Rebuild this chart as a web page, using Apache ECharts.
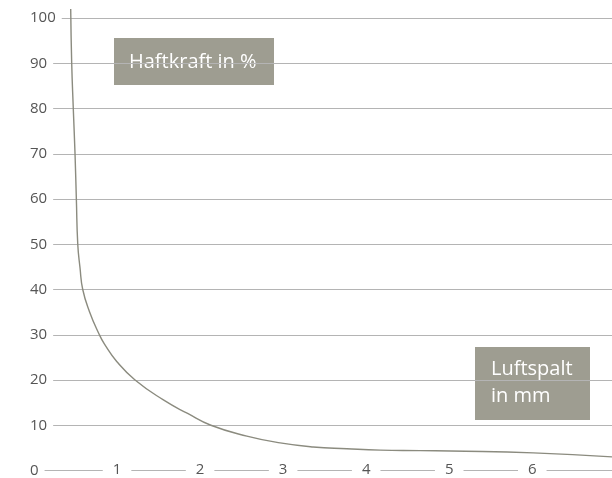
<!DOCTYPE html>
<html>
<head>
<meta charset="utf-8">
<script src="https://cdn.jsdelivr.net/npm/echarts@6/dist/echarts.min.js"></script>
<style>
  html, body { margin: 0; padding: 0; background: #fff; }
  #chart { width: 612px; height: 478px; }
</style>
</head>
<body>
<div id="chart"></div>
<script>
// Luftspalt (mm) vs Haftkraft (%)
const gapMm = [0.442, 0.454, 0.473, 0.494, 0.51, 0.527, 0.554, 0.587, 0.666, 0.787, 0.847, 0.996, 1.217, 1.558, 1.85, 2.13, 2.563, 2.964, 3.361, 3.767, 4.169, 4.651, 5.012, 6.012, 6.96];
const force = [102, 90, 80, 70, 60, 50, 44.8, 40, 35.2, 30, 28, 24.1, 20, 15.6, 12.6, 10.0, 7.6, 6.1, 5.2, 4.8, 4.5, 4.4, 4.3, 3.9, 3.0];
const xTicks = [1, 2, 3, 4, 5, 6];
const yLabel = 'Haftkraft in %';
const xLabel = 'Luftspalt\nin mm';

const font = '"Open Sans", "Noto Sans", sans-serif';
const boxColor = '#9e9d91';
const lineColor = '#8b8b7f';
const gridColor = '#b4b4b4';

const chart = echarts.init(document.getElementById('chart'));

const option = {
    animation: false,
    grid: { left: 34, right: 0, top: 18, bottom: 5 },
    xAxis: {
        type: 'value',
        min: 0,
        max: 6.96,
        interval: 1,
        z: 5,
        axisLine: { show: false },
        axisTick: { show: false },
        splitLine: { show: false },
        axisLabel: {
            showMinLabel: false,
            showMaxLabel: false,
            margin: -1,
            verticalAlign: 'middle',
            color: '#555',
            fontFamily: font,
            fontSize: 15,
            backgroundColor: '#fff',
            padding: [0, 10],
            formatter: v => xTicks.includes(v) ? String(v) : ''
        }
    },
    yAxis: [
        {
            type: 'value',
            min: 0,
            max: 100,
            interval: 10,
            axisLine: { show: false },
            axisTick: { show: false },
            axisLabel: { show: false },
            splitLine: { lineStyle: { color: gridColor, width: 1 } }
        },
        {
            type: 'value',
            min: 0,
            max: 100,
            interval: 10,
            position: 'left',
            z: 5,
            axisLine: { show: false },
            axisTick: { show: false },
            splitLine: { show: false },
            axisLabel: {
                inside: true,
                margin: -4,
                color: '#555',
                fontFamily: font,
                fontSize: 15,
                backgroundColor: '#fff',
                padding: [0, 6, 0, 0]
            }
        }
    ],
    series: [{
        type: 'line',
        yAxisIndex: 0,
        data: gapMm.map((x, i) => [x, force[i]]),
        smooth: 0.5,
        showSymbol: false,
        clip: false,
        lineStyle: { color: lineColor, width: 1.4 }
    }],
    graphic: [
        {
            type: 'group',
            left: 114,
            top: 38,
            z: 10,
            children: [
                { type: 'rect', shape: { x: 0, y: 0, width: 160, height: 47 }, style: { fill: boxColor } },
                { type: 'text', x: 15, y: 24, style: { text: yLabel, fill: '#fff', font: '20px ' + font, verticalAlign: 'middle' } }
            ]
        },
        {
            type: 'group',
            left: 475,
            top: 347,
            z: 10,
            children: [
                { type: 'rect', shape: { x: 0, y: 0, width: 115, height: 73 }, style: { fill: boxColor } },
                { type: 'text', x: 16, y: 9, style: { text: xLabel, fill: '#fff', font: '20px ' + font, lineHeight: 27 } }
            ]
        }
    ]
};

chart.setOption(option);
</script>
</body>
</html>
